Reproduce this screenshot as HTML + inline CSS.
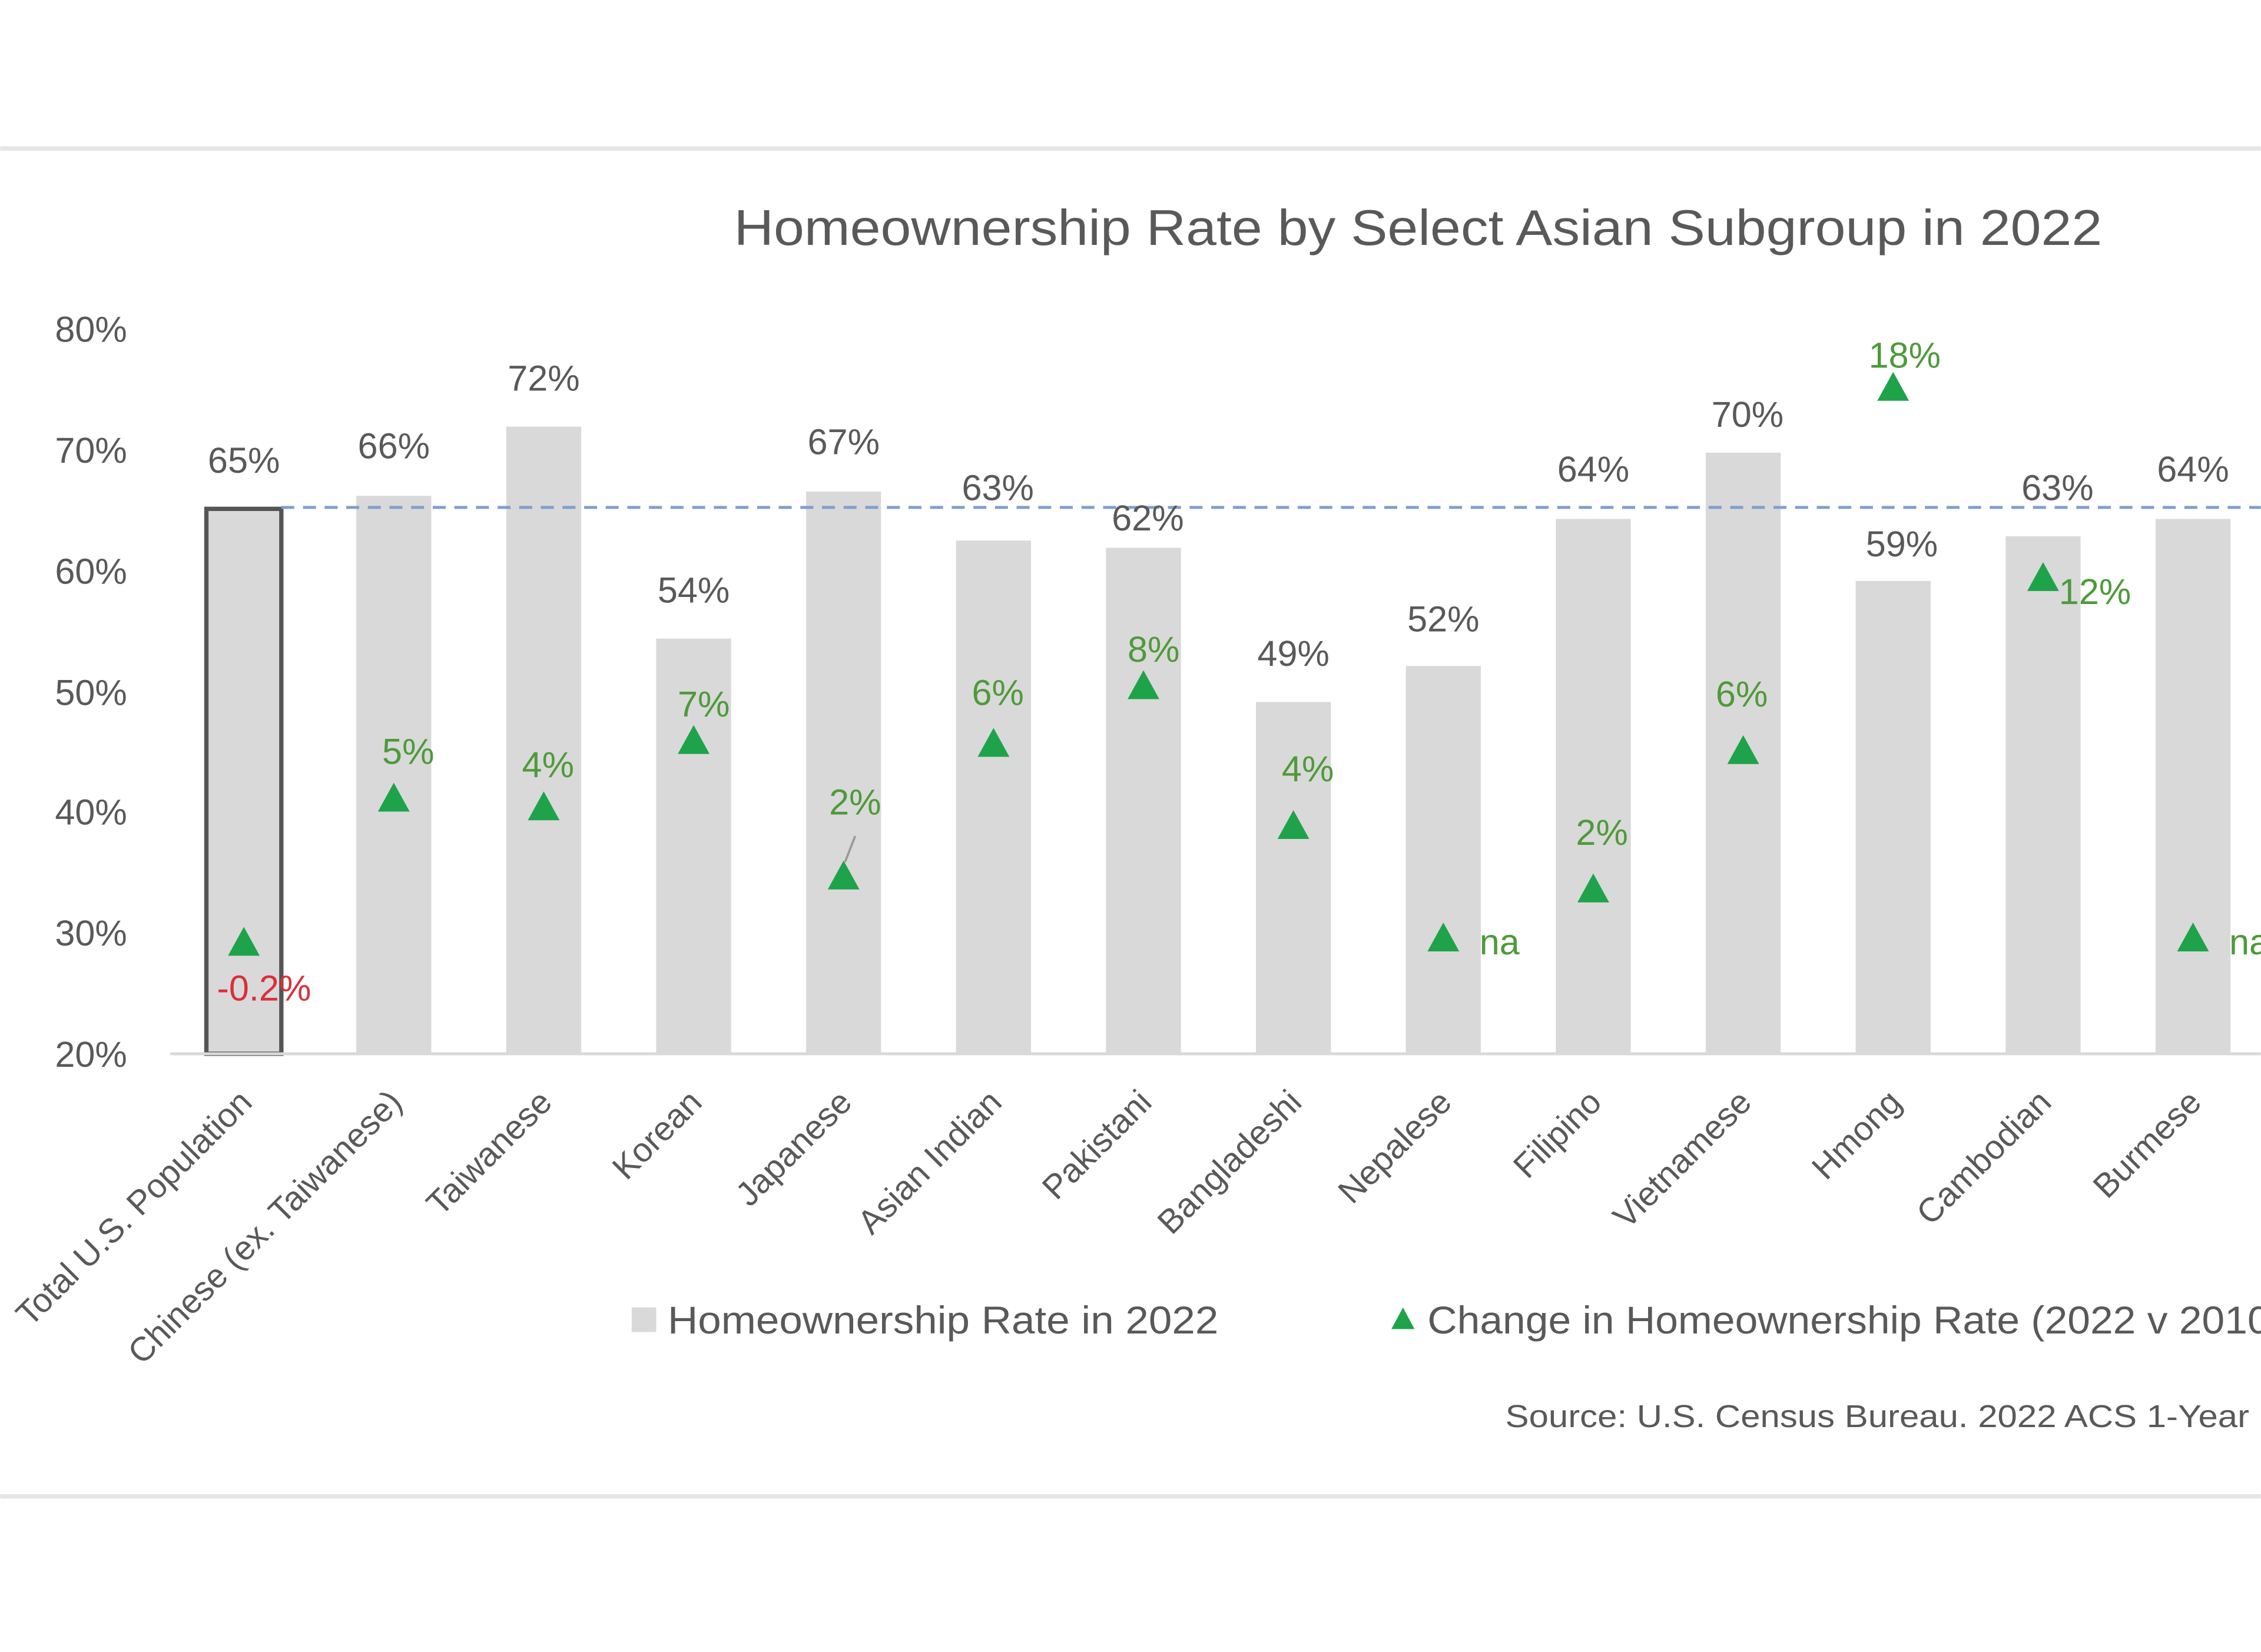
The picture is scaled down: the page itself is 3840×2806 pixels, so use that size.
<!DOCTYPE html>
<html><head><meta charset="utf-8"><style>
html,body{margin:0;padding:0;background:#fff;}
svg{display:block;}
text{font-family:"Liberation Sans",sans-serif;}
</style></head><body>
<svg width="3840" height="2806" viewBox="0 0 1568 1146" xmlns="http://www.w3.org/2000/svg">
<rect width="1568" height="1146" fill="#fff"/>
<line x1="0" y1="103" x2="1568" y2="103" stroke="#e6e6e6" stroke-width="3"/>
<line x1="0" y1="1038" x2="1568" y2="1038" stroke="#e6e6e6" stroke-width="3"/>
<text x="509" y="170" font-size="35" fill="#595959" textLength="949" lengthAdjust="spacingAndGlyphs">Homeownership Rate by Select Asian Subgroup in 2022</text>
<g font-size="25" fill="#595959" text-anchor="end">
<text x="88" y="237">80%</text><text x="88" y="321">70%</text><text x="88" y="405">60%</text>
<text x="88" y="489">50%</text><text x="88" y="572">40%</text><text x="88" y="656">30%</text><text x="88" y="740">20%</text>
</g>
<g fill="#d9d9d9">
<rect x="143" y="353" width="52" height="378" fill="#d9d9d9" stroke="#555" stroke-width="3"/>
<rect x="247" y="344" width="52" height="387"/>
<rect x="351" y="296" width="52" height="435"/>
<rect x="455" y="443" width="52" height="288"/>
<rect x="559" y="341" width="52" height="390"/>
<rect x="663" y="375" width="52" height="356"/>
<rect x="767" y="380" width="52" height="351"/>
<rect x="871" y="487" width="52" height="244"/>
<rect x="975" y="462" width="52" height="269"/>
<rect x="1079" y="360" width="52" height="371"/>
<rect x="1183" y="314" width="52" height="417"/>
<rect x="1287" y="403" width="52" height="328"/>
<rect x="1391" y="372" width="52" height="359"/>
<rect x="1495" y="360" width="52" height="371"/>
</g>
<line x1="118" y1="731" x2="1568" y2="731" stroke="#d9d9d9" stroke-width="2"/>
<line x1="195" y1="352" x2="1568" y2="352" stroke="#7f9fcf" stroke-width="2" stroke-dasharray="9,6"/>
<g font-size="25" fill="#595959" text-anchor="middle">
<text x="169" y="328">65%</text><text x="273" y="318">66%</text><text x="377" y="271">72%</text>
<text x="481" y="418">54%</text><text x="585" y="315">67%</text><text x="692" y="347">63%</text>
<text x="796" y="368">62%</text><text x="897" y="462">49%</text><text x="1001" y="438">52%</text>
<text x="1105" y="334">64%</text><text x="1212" y="296">70%</text><text x="1319" y="386">59%</text>
<text x="1427" y="347">63%</text><text x="1521" y="334">64%</text>
</g>
<g fill="#1ea34a">
<polygon points="169,643 158,663 180,663"/>
<polygon points="273,543 262,563 284,563"/>
<polygon points="377,549 366,569 388,569"/>
<polygon points="481,503 470,523 492,523"/>
<polygon points="585,597 574,617 596,617"/>
<polygon points="689,505 678,525 700,525"/>
<polygon points="793,465 782,485 804,485"/>
<polygon points="897,562 886,582 908,582"/>
<polygon points="1001,640 990,660 1012,660"/>
<polygon points="1105,606 1094,626 1116,626"/>
<polygon points="1209,510 1198,530 1220,530"/>
<polygon points="1313,258 1302,278 1324,278"/>
<polygon points="1417,390 1406,410 1428,410"/>
<polygon points="1521,640 1510,660 1532,660"/>
</g>
<line x1="586" y1="598" x2="593" y2="580" stroke="#999" stroke-width="1.5"/>
<text x="183" y="694" font-size="25" fill="#d9303a" text-anchor="middle">-0.2%</text>
<g font-size="25" fill="#4e9a3a" text-anchor="middle">
<text x="283" y="530">5%</text><text x="380" y="539">4%</text><text x="488" y="497">7%</text>
<text x="593" y="565">2%</text><text x="692" y="489">6%</text><text x="800" y="459">8%</text>
<text x="907" y="542">4%</text><text x="1040" y="662">na</text><text x="1111" y="586">2%</text>
<text x="1208" y="490">6%</text><text x="1321" y="255">18%</text><text x="1453" y="419">12%</text>
<text x="1560" y="662">na</text>
</g>
<g font-size="23.5" fill="#595959" text-anchor="end">
<text transform="translate(176,766) rotate(-45)">Total U.S. Population</text>
<text transform="translate(280,766) rotate(-45)">Chinese (ex. Taiwanese)</text>
<text transform="translate(384,766) rotate(-45)">Taiwanese</text>
<text transform="translate(488,766) rotate(-45)">Korean</text>
<text transform="translate(592,766) rotate(-45)">Japanese</text>
<text transform="translate(696,766) rotate(-45)">Asian Indian</text>
<text transform="translate(800,766) rotate(-45)">Pakistani</text>
<text transform="translate(904,766) rotate(-45)">Bangladeshi</text>
<text transform="translate(1008,766) rotate(-45)">Nepalese</text>
<text transform="translate(1112,766) rotate(-45)">Filipino</text>
<text transform="translate(1216,766) rotate(-45)">Vietnamese</text>
<text transform="translate(1320,766) rotate(-45)">Hmong</text>
<text transform="translate(1424,766) rotate(-45)">Cambodian</text>
<text transform="translate(1528,766) rotate(-45)">Burmese</text>
</g>
<rect x="438" y="907" width="17" height="17" fill="#d9d9d9"/>
<text x="463" y="925" font-size="27" fill="#595959" textLength="382" lengthAdjust="spacingAndGlyphs">Homeownership Rate in 2022</text>
<polygon points="973,907 965,922 981,922" fill="#1ea34a"/>
<text x="990" y="925" font-size="27" fill="#595959" textLength="594" lengthAdjust="spacingAndGlyphs">Change in Homeownership Rate (2022 v 2010)</text>
<text x="1044" y="990" font-size="22" fill="#595959" textLength="516" lengthAdjust="spacingAndGlyphs">Source: U.S. Census Bureau. 2022 ACS 1-Year</text>
<text x="1570" y="990" font-size="22" fill="#595959">Estimates</text>
</svg>
</body></html>
